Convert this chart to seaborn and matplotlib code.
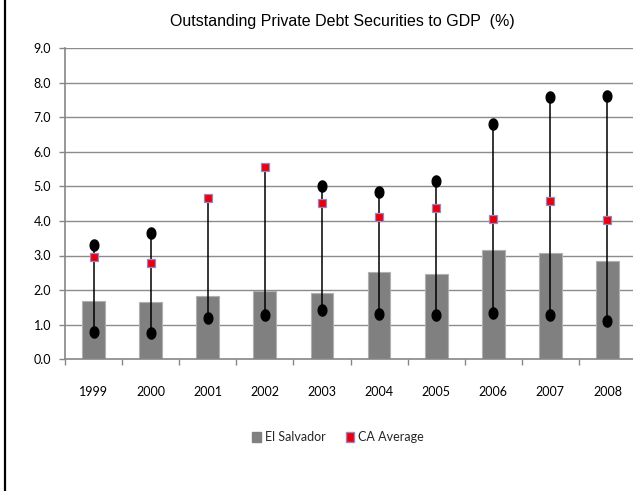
import numpy as np
import pandas as pd
import matplotlib
matplotlib.use("Agg")
import matplotlib.pyplot as plt
import seaborn as sns
from matplotlib.path import Path
from matplotlib.lines import Line2D
from matplotlib.patches import Patch

years = ["1999", "2000", "2001", "2002", "2003", "2004", "2005", "2006", "2007", "2008"]
el_salvador = [1.68, 1.65, 1.84, 1.96, 1.92, 2.53, 2.46, 3.17, 3.08, 2.85]
ca_average = [2.97, 2.78, 4.67, 5.57, 4.51, 4.10, 4.38, 4.05, 4.57, 4.03]
ca_max = [3.31, 3.66, np.nan, np.nan, 5.01, 4.84, 5.14, 6.79, 7.57, 7.62]
ca_min = [0.80, 0.76, 1.19, 1.28, 1.42, 1.31, 1.27, 1.35, 1.27, 1.12]
yticks = [0.0, 1.0, 2.0, 3.0, 4.0, 5.0, 6.0, 7.0, 8.0, 9.0]
title = "Outstanding Private Debt Securities to GDP  (%)"

df = pd.DataFrame({"year": years, "es": el_salvador, "avg": ca_average,
                   "mx": ca_max, "mn": ca_min})
df["top"] = df[["mx", "avg"]].max(axis=1)

sns.set_theme(style="white")
plt.rcParams["font.family"] = ["Liberation Sans", "DejaVu Sans"]

fig = plt.figure(figsize=(6.33, 4.91), dpi=100)
ax = fig.add_axes([65 / 633, 1 - 359.3 / 491, 571 / 633, (359.3 - 47.9) / 491])

grid_c = "#8c8c8c"
for t in yticks[1:]:
    ax.axhline(t, color=grid_c, lw=1.0, zorder=0)

sns.barplot(data=df, x="year", y="es", color="#808080", width=0.40,
            saturation=1, edgecolor="#b0b0b0", linewidth=0.8, ax=ax, zorder=2)

xs = np.arange(len(years))
ax.vlines(xs, df["mn"], df["top"], color="black", lw=1.1, zorder=3)

theta = np.linspace(0, 2 * np.pi, 60)
ell = Path(np.column_stack([0.78 * np.cos(theta), np.sin(theta)]), closed=True)
ax.plot(xs, df["mx"], ls="none", marker=ell, ms=8, color="black", zorder=4)
ax.plot(xs, df["mn"], ls="none", marker=ell, ms=8, color="black", zorder=4)
ax.plot(xs, df["avg"], ls="none", marker="s", ms=5.2, mfc="#e8000b",
        mec="#9b86c4", mew=0.9, zorder=5)

ax.set_ylim(0, 9)
ax.set_xlim(-0.5, len(years) - 0.5)
ax.set_yticks(yticks)
ax.set_yticklabels([f"{v:.1f}" for v in yticks])
ax.set_xticks(np.arange(-0.5, len(years), 1.0), minor=False)
ax.set_xticklabels([])
ax.set_xticks(xs, minor=True)
ax.set_xticklabels(years, minor=True)
ax.set_xlabel("")
ax.set_ylabel("")

for s in ["top", "right"]:
    ax.spines[s].set_visible(False)
for s in ["left", "bottom"]:
    ax.spines[s].set_color("#868686")
    ax.spines[s].set_linewidth(1.2)

tick_font = ["Lato", "DejaVu Sans"]
ax.tick_params(axis="y", which="major", left=True, length=4, width=1,
               color="#868686", pad=6, labelsize=9, labelcolor="black")
ax.tick_params(axis="x", which="major", bottom=True, length=4, width=1,
               color="#868686")
ax.tick_params(axis="x", which="minor", bottom=False, length=0, pad=19,
               labelsize=9, labelcolor="black")
for lab in ax.get_yticklabels() + ax.get_xticklabels(minor=True):
    lab.set_fontfamily(tick_font)

fig.text(342 / 633, 1 - 21.5 / 491, title, ha="center", va="center",
         fontsize=11.5, color="black")

handles = [Patch(facecolor="#808080", edgecolor="#808080", label="El Salvador"),
           Patch(facecolor="#e8000b", edgecolor="#9b86c4", label="CA Average")]
fig.legend(handles=handles, loc="center", bbox_to_anchor=(338 / 633, 1 - 437 / 491),
           ncol=2, frameon=False, handlelength=0.7, handleheight=0.9,
           handletextpad=0.3, columnspacing=1.6,
           prop={"family": tick_font, "size": 9})

fig.add_artist(Line2D([5 / 633, 5 / 633], [0, 1], transform=fig.transFigure,
                      color="black", lw=1.6))

fig.savefig("out.png", dpi=100)
